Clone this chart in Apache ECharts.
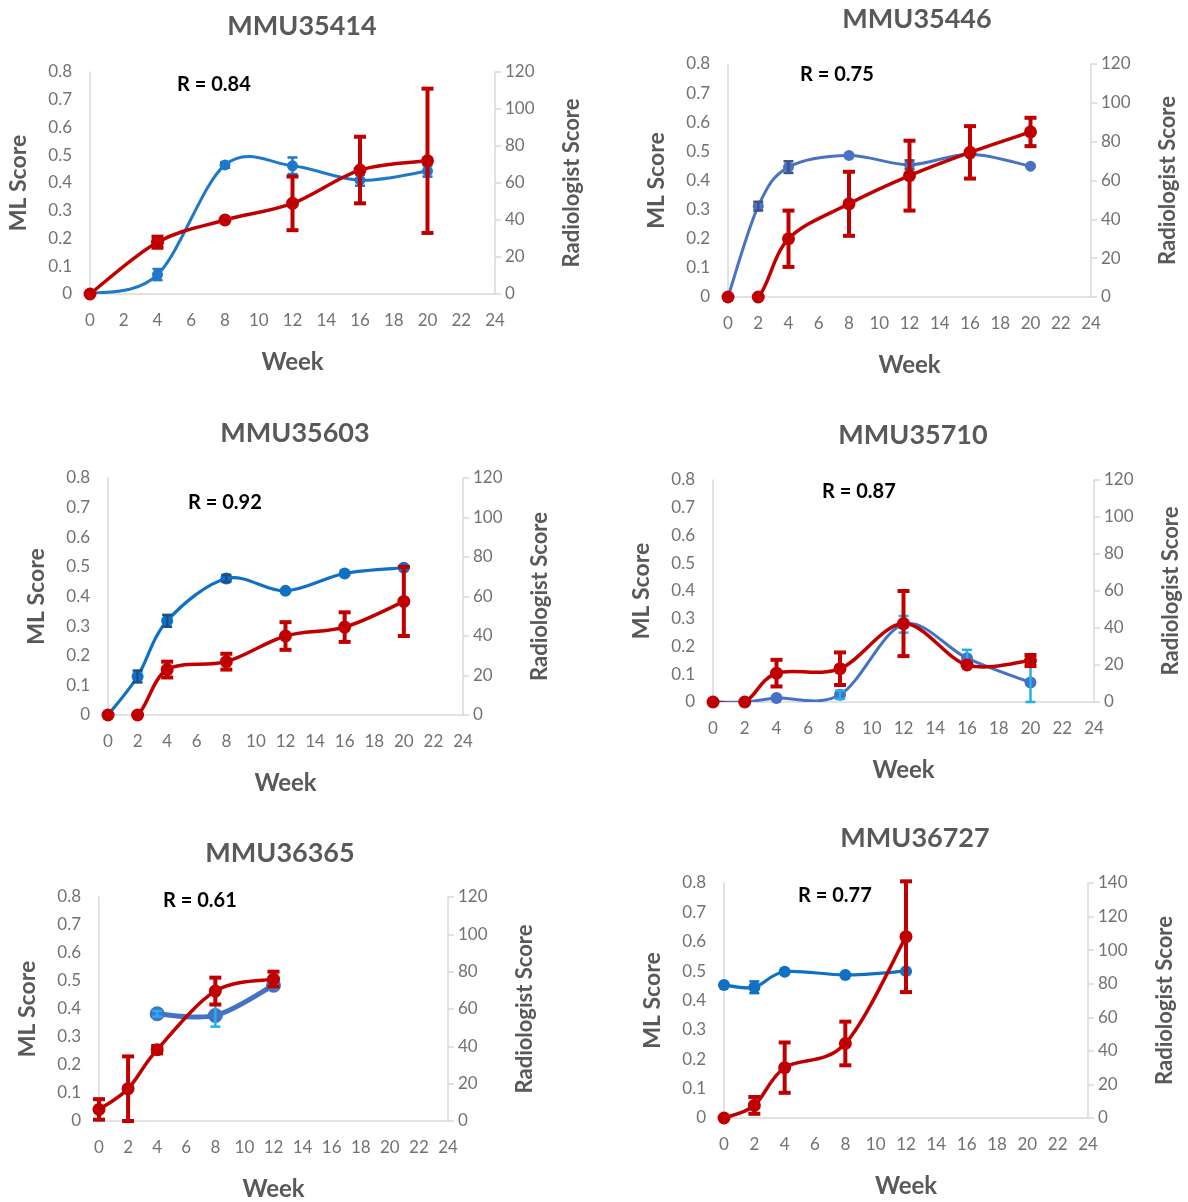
<!DOCTYPE html>
<html><head><meta charset="utf-8">
<script src="https://cdn.jsdelivr.net/npm/echarts@6/dist/echarts.min.js"></script>
<style>html,body{margin:0;padding:0;background:#fff}#c{width:1188px;height:1202px}</style>
</head><body><div id="c"></div>
<script>
// Panel titles and correlation labels
const titles = ['MMU35414','MMU35446','MMU35603','MMU35710','MMU36365','MMU36727'];
const rLabels = ['R = 0.84','R = 0.75','R = 0.92','R = 0.87','R = 0.61','R = 0.77'];
const weekTicks = [0,2,4,6,8,10,12,14,16,18,20,22,24];
const radMax = [120,120,120,120,120,140];

// Panel 1 MMU35414
const p1MlWeeks = [0,4,8,12,16,20];
const p1Ml = [0,0.07,0.465,0.462,0.41,0.443];
const p1MlErr = [0,0.02,0.01,0.03,0.02,0.02];
const p1RadWeeks = [0,4,8,12,16,20];
const p1Rad = [0,28,40,49,67,72];
const p1RadErr = [0,3,0,14.5,18,39];

// Panel 2 MMU35446
const p2MlWeeks = [0,2,4,8,12,16,20];
const p2Ml = [0,0.312,0.446,0.486,0.454,0.49,0.449];
const p2MlErr = [0,0.015,0.02,0,0.015,0,0];
const p2RadWeeks = [0,2,4,8,12,16,20];
const p2Rad = [0,0,30,48,62.5,74.5,85];
const p2RadErr = [0,0,14.5,16.5,18,13.5,7.3];

// Panel 3 MMU35603
const p3MlWeeks = [0,2,4,8,12,16,20];
const p3Ml = [0,0.13,0.318,0.461,0.419,0.478,0.497];
const p3MlErr = [0,0.02,0.02,0.012,0,0,0];
const p3RadWeeks = [0,2,4,8,12,16,20];
const p3Rad = [0,0,23,27,40,44.5,57.5];
const p3RadErr = [0,0,4,4,7,7.5,17.5];

// Panel 4 MMU35710
const p4MlWeeks = [0,2,4,8,12,16,20];
const p4Ml = [0,0,0.014,0.026,0.28,0.158,0.07];
const p4MlErr = [0,0,0,0.015,0.03,0.03,0.07];
const p4RadWeeks = [0,2,4,8,12,16,20];
const p4Rad = [0,0,15.6,18,42.4,20,22.4];
const p4RadErr = [0,0,7.2,8.8,17.6,0,3];

// Panel 5 MMU36365
const p5MlWeeks = [4,8,12];
const p5Ml = [0.383,0.377,0.485];
const p5MlErr = [0.01,0.04,0.01];
const p5RadWeeks = [0,2,4,8,12];
const p5Rad = [6.2,17.3,38.2,69.6,76];
const p5RadErr = [5.5,17.3,2,7.2,4];

// Panel 6 MMU36727
const p6MlWeeks = [0,2,4,8,12];
const p6Ml = [0.453,0.445,0.498,0.487,0.5];
const p6MlErr = [0,0.02,0,0,0];
const p6RadWeeks = [0,2,4,8,12];
const p6Rad = [0,7.5,30,44.4,108];
const p6RadErr = [0,5,15,13,33];

const panelData = [
  [p1MlWeeks,p1Ml,p1MlErr,p1RadWeeks,p1Rad,p1RadErr],
  [p2MlWeeks,p2Ml,p2MlErr,p2RadWeeks,p2Rad,p2RadErr],
  [p3MlWeeks,p3Ml,p3MlErr,p3RadWeeks,p3Rad,p3RadErr],
  [p4MlWeeks,p4Ml,p4MlErr,p4RadWeeks,p4Rad,p4RadErr],
  [p5MlWeeks,p5Ml,p5MlErr,p5RadWeeks,p5Rad,p5RadErr],
  [p6MlWeeks,p6Ml,p6MlErr,p6RadWeeks,p6Rad,p6RadErr]
];

// layout (style only)
const grids = [
  {left:90, top:72, width:405, height:222},
  {left:728, top:64, width:363, height:233},
  {left:108, top:478, width:355, height:237},
  {left:713, top:480, width:381, height:222},
  {left:99, top:897, width:349, height:226},
  {left:724, top:883, width:364, height:235}
];
const titlePos = [[297,24],[912,17],[290,431],[908,433],[275,851],[910,836]];
const rPos = [[219,87],[842,77],[230,505],[864,494],[205,903],[840,898]];
const mlColors = ['#1f78c8','#4a72c4','#1070c4','#4472c4','#4472c4','#1070c4'];
const mlErrColors = ['#1f78c8','#3d5580','#1a4f8a','#22b0ee','#22b0ee','#1070c4'];
const mlWidths = [3,3,3.2,3,5,3.2];
const mlSymbol = [11,11,12,12,15,12];
const RED = '#c00000';
const GRAY = '#595959';
const TICK = '#727272';
const FONT = 'Lato, "Open Sans", "Liberation Sans", sans-serif';

const option = {
  animation:false,
  backgroundColor:'#fff',
  title:[], grid:[], xAxis:[], yAxis:[], series:[], graphic:[]
};

function errSeries(gi, yIdx, weeks, vals, errs, color, lw, cap){
  const data = [];
  weeks.forEach((w,i)=>{ if(errs[i]>0) data.push([w, vals[i]-errs[i], vals[i]+errs[i]]); });
  return {
    type:'custom', xAxisIndex:gi, yAxisIndex:yIdx, z:5,
    data:data, encode:{x:0,y:[1,2]},
    renderItem:function(params, api){
      const x = api.value(0);
      const lo = api.coord([x, api.value(1)]);
      const hi = api.coord([x, api.value(2)]);
      const st = {stroke:color, lineWidth:lw};
      return {type:'group', children:[
        {type:'line', shape:{x1:lo[0],y1:lo[1],x2:hi[0],y2:hi[1]}, style:st},
        {type:'line', shape:{x1:lo[0]-cap,y1:lo[1],x2:lo[0]+cap,y2:lo[1]}, style:st},
        {type:'line', shape:{x1:hi[0]-cap,y1:hi[1],x2:hi[0]+cap,y2:hi[1]}, style:st}
      ]};
    }
  };
}

// Spreadsheet-style smoothed line: Catmull-Rom bezier through the data points, in pixel space
function curveSeries(gi, yIdx, weeks, vals, color, lw, z){
  const pts = weeks.map((w,k)=>[w, vals[k]]);
  return {
    type:'custom', xAxisIndex:gi, yAxisIndex:yIdx, z:z, silent:true, clip:true,
    data: pts.slice(0, pts.length-1), encode:{x:0,y:1},
    renderItem:function(params, api){
      const i = params.dataIndex, n = pts.length;
      const P = k => api.coord(pts[Math.max(0, Math.min(n-1, k))]);
      const p0 = P(i-1), p1 = P(i), p2 = P(i+1), p3 = P(i+2);
      const c1 = [p1[0] + (p2[0]-p0[0])/6, p1[1] + (p2[1]-p0[1])/6];
      const c2 = [p2[0] - (p3[0]-p1[0])/6, p2[1] - (p3[1]-p1[1])/6];
      return {type:'bezierCurve',
        shape:{x1:p1[0],y1:p1[1],x2:p2[0],y2:p2[1],cpx1:c1[0],cpy1:c1[1],cpx2:c2[0],cpy2:c2[1]},
        style:{stroke:color, lineWidth:lw, fill:null, lineCap:'round'}};
    }
  };
}

grids.forEach((g,i)=>{
  option.grid.push(Object.assign({containLabel:false}, g));
  option.title.push({text:titles[i], left:titlePos[i][0], top:titlePos[i][1]-16, textAlign:'center',
    textStyle:{fontFamily:FONT, fontSize:27, fontWeight:'bold', color:GRAY}});
  option.graphic.push({type:'text', left:rPos[i][0]-42, top:rPos[i][1]-12,
    style:{text:rLabels[i], font:'bold 20px "Liberation Sans Narrow", ' + FONT, fill:'#000'}});
  option.xAxis.push({type:'value', gridIndex:i, min:0, max:24, interval:2,
    name:'Week', nameLocation:'middle', nameGap:56,
    nameTextStyle:{fontFamily:FONT, fontSize:24, fontWeight:'bold', color:GRAY},
    axisLine:{show:true, lineStyle:{color:'#d9d9d9', width:1.5}},
    axisTick:{show:false}, splitLine:{show:false},
    axisLabel:{fontFamily:FONT, fontSize:17, color:TICK, margin:18,
      formatter:v=> weekTicks.includes(v)? String(v):''}});
  option.yAxis.push({type:'value', gridIndex:i, min:0, max:0.8, interval:0.1, position:'left',
    name:'ML Score', nameLocation:'middle', nameGap:60, nameRotate:90,
    nameTextStyle:{fontFamily:FONT, fontSize:23, fontWeight:'bold', color:GRAY},
    axisLine:{show:true, lineStyle:{color:'#d9d9d9', width:1.5}},
    axisTick:{show:false}, splitLine:{show:false},
    axisLabel:{fontFamily:FONT, fontSize:17, color:TICK, margin:18}});
  option.yAxis.push({type:'value', gridIndex:i, min:0, max:radMax[i], interval:20, position:'right',
    name:'Radiologist Score', nameLocation:'middle', nameGap:66, nameRotate:90,
    nameTextStyle:{fontFamily:FONT, fontSize:22, fontWeight:'bold', color:GRAY},
    axisLine:{show:true, lineStyle:{color:'#d9d9d9', width:1.5}},
    axisTick:{show:true, inside:false, length:6, lineStyle:{color:'#d9d9d9', width:1.5}},
    splitLine:{show:false},
    axisLabel:{fontFamily:FONT, fontSize:17, color:TICK, margin:10}});

  const [mw, mv, me, rw, rv, re] = panelData[i];
  // ML score: curve, markers, error bars
  option.series.push(curveSeries(i, 2*i, mw, mv, mlColors[i], mlWidths[i], 2));
  option.series.push({type:'line', xAxisIndex:i, yAxisIndex:2*i,
    data: mw.map((w,k)=>[w, mv[k]]), symbol:'circle', symbolSize:mlSymbol[i], z:3,
    lineStyle:{width:0, opacity:0}, itemStyle:{color:mlColors[i]}});
  option.series.push(errSeries(i, 2*i, mw, mv, me, mlErrColors[i], 2.5, 5));
  // Radiologist score: curve, markers, error bars
  option.series.push(curveSeries(i, 2*i+1, rw, rv, RED, 3.5, 6));
  option.series.push({type:'line', xAxisIndex:i, yAxisIndex:2*i+1,
    data: rw.map((w,k)=>[w, rv[k]]), symbol:'circle', symbolSize:13, z:7,
    lineStyle:{width:0, opacity:0}, itemStyle:{color:RED}});
  const rs = errSeries(i, 2*i+1, rw, rv, re, RED, 4, 6); rs.z = 8;
  option.series.push(rs);
});

const chart = echarts.init(document.getElementById('c'), null, {renderer:'canvas'});
chart.setOption(option);
</script>
</body></html>
